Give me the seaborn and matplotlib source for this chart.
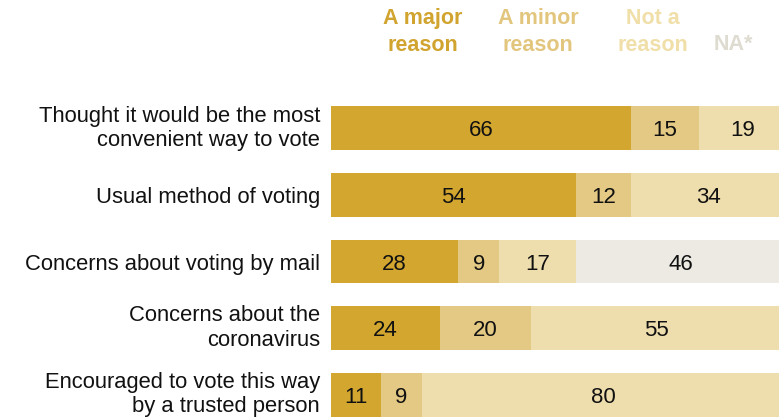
import matplotlib
matplotlib.use("Agg")
import matplotlib.pyplot as plt
import seaborn as sns
import pandas as pd
import numpy as np

# reasons for voting method, % of voters
categories = [
    "Thought it would be the most\nconvenient way to vote",
    "Usual method of voting",
    "Concerns about voting by mail",
    "Concerns about the\ncoronavirus",
    "Encouraged to vote this way\nby a trusted person",
]
major = [66, 54, 28, 24, 11]
minor = [15, 12, 9, 20, 9]
not_reason = [19, 34, 17, 55, 80]
na = [0, 0, 46, 0, 0]

series_names = ["A major\nreason", "A minor\nreason", "Not a\nreason", "NA*"]
bar_colors = ["#D3A72F", "#E3C983", "#EEDDAD", "#EDEAE3"]
head_colors = ["#D1A42F", "#E3C67E", "#F0DFA8", "#DEDBD0"]

sns.set_style("white")
plt.rcParams["font.family"] = ["Liberation Sans", "DejaVu Sans"]

df = pd.DataFrame({"cat": categories, "major": major, "minor": minor,
                   "not": not_reason, "na": na})
cols = ["major", "minor", "not", "na"]
cum = df[cols].cumsum(axis=1)

fig = plt.figure(figsize=(7.79, 4.19), dpi=100)
W, H = 779, 419
ax = fig.add_axes([331 / W, -9 / H, 454.5 / W, 333 / H])

# draw cumulative totals from the back so the segments stack
for col, color in reversed(list(zip(cols, bar_colors))):
    sns.barplot(x=cum[col], y=df["cat"], color=color, orient="h",
                width=0.66, saturation=1, linewidth=0, ax=ax)

for i in range(len(df)):
    start = 0
    for col in cols:
        v = df.loc[i, col]
        if v > 0:
            ax.text(start + v / 2, i, str(v), ha="center", va="center_baseline",
                    fontsize=16, color="#111111")
        start += v

ax.set_xlim(0, 100)
ax.set_ylim(4.5, -0.5)
ax.set_xlabel("")
ax.set_ylabel("")
ax.set_xticks([])
ax.set_yticks(range(len(categories)))
ax.set_yticklabels(categories, fontsize=15.8, color="#111111", linespacing=1.22)
for lbl in ax.get_yticklabels():
    # two-line labels centred on their box, one-liners on the baseline centre
    lbl.set_va("center" if "\n" in lbl.get_text() else "center_baseline")
ax.tick_params(axis="y", length=0, pad=8)
sns.despine(ax=ax, left=True, bottom=True)

# column headers
head_x = [423, 538, 653, 733]
for name, x, c in zip(series_names, head_x, head_colors):
    y = 45 if name == "NA*" else 32
    fig.text(x / W, 1 - y / H, name, ha="center", va="center", fontsize=15.5,
             fontweight="bold", color=c, linespacing=1.38)

fig.savefig("out.png", dpi=100)
